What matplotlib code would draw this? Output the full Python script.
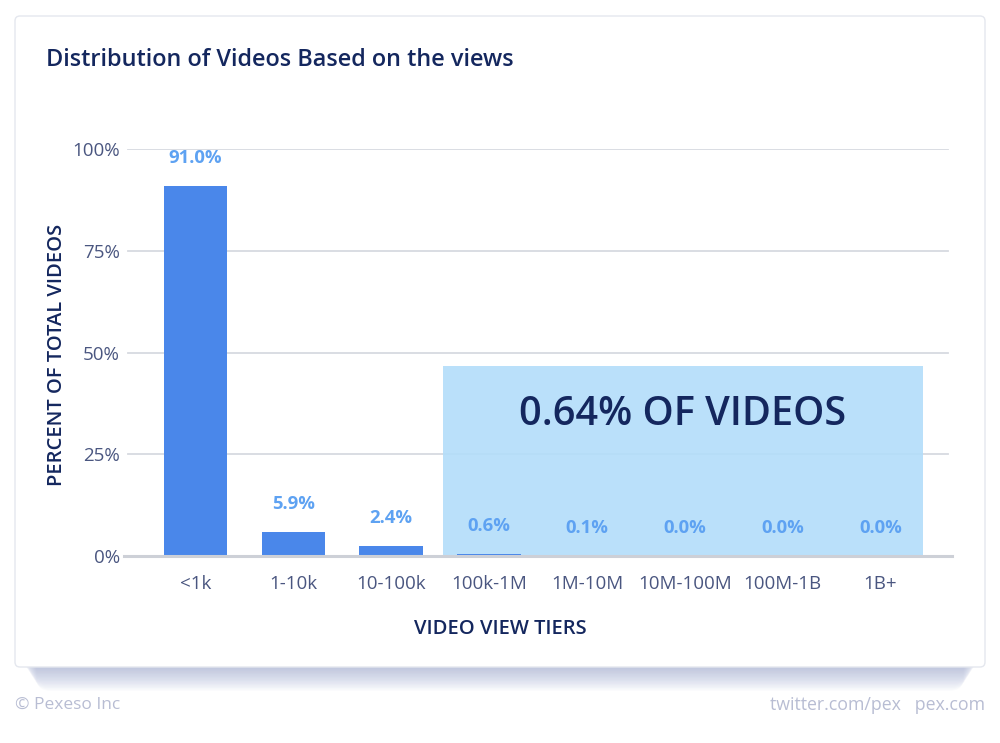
import matplotlib.pyplot as plt
from matplotlib.patches import FancyBboxPatch, Rectangle
import numpy as np

# data
tiers = ["<1k", "1-10k", "10-100k", "100k-1M", "1M-10M", "10M-100M", "100M-1B", "1B+"]
percent = [91.0, 5.9, 2.4, 0.6, 0.1, 0.0, 0.0, 0.0]
labels = ["91.0%", "5.9%", "2.4%", "0.6%", "0.1%", "0.0%", "0.0%", "0.0%"]
y_ticks = [0, 25, 50, 75, 100]
highlight_text = "0.64% OF VIDEOS"
highlight_top = 46.7

NAVY = "#14275E"
TICK = "#4A5680"
BAR = "#4A87EA"
LABEL = "#5EA2F2"

plt.rcParams['font.family'] = ['Open Sans', 'DejaVu Sans']

fig = plt.figure(figsize=(10, 7.43), dpi=100)
fig.patch.set_facecolor("white")

# card with soft shadow underneath (pixel coords)
H = 743
x0, x1, top, bot = 15, 985, 16, 667
for i in range(1, 18):
    inset = 6 + i * 0.9
    sh = FancyBboxPatch((x0 + inset, H - bot - i * 1.4), (x1 - x0) - 2 * inset, 60,
                        boxstyle="round,pad=0,rounding_size=14", transform=None,
                        facecolor="#8E9BC9", edgecolor="none", alpha=0.04, zorder=-11)
    fig.patches.append(sh)
card = FancyBboxPatch((x0, H - bot), x1 - x0, bot - top,
                      boxstyle="round,pad=0,rounding_size=5", transform=None,
                      facecolor="white", edgecolor="#E4E7EE", linewidth=1, zorder=-10)
fig.patches.append(card)

ax = fig.add_axes([0.124, (H - 556) / H, 0.828, (556 - 149) / H])
ax.set_facecolor("none")
x = np.arange(len(tiers))
ax.set_xlim(-0.73, 7.73)
ax.set_ylim(0, 100)

for yv in y_ticks[1:]:
    ax.axhline(yv, xmin=0.005, xmax=0.995, color="#D7DAE0", linewidth=1.3, zorder=0.5)

ax.add_patch(Rectangle((2.53, 0), 4.9, highlight_top, facecolor="#B3DDFA", alpha=0.9,
                       edgecolor="none", zorder=1))

ax.bar(x, percent, width=0.65, color=BAR, zorder=2)

for xi, v, lab in zip(x, percent, labels):
    ax.annotate(lab, xy=(xi, v), xytext=(0, 20), textcoords="offset points",
                ha="center", va="center", color=LABEL, fontsize=13.3, fontweight="bold",
                annotation_clip=False)

ax.text(4.98, 34.6, highlight_text, ha="center", va="center", color=NAVY,
        fontsize=28.5, fontweight="semibold", zorder=4)

for s in ["top", "right", "left"]:
    ax.spines[s].set_visible(False)
ax.spines["bottom"].set_color("#CDD0D7")
ax.spines["bottom"].set_linewidth(2.2)
ax.spines["bottom"].set_zorder(3)

ax.set_yticks(y_ticks)
ax.set_yticklabels([f"{v}%" for v in y_ticks])
ax.set_xticks(x)
ax.set_xticklabels(tiers)
ax.tick_params(axis="y", length=0, pad=3, labelsize=13.5, labelcolor=TICK)
ax.tick_params(axis="x", length=0, pad=14, labelsize=13.5, labelcolor=TICK)

fig.text(0.057, (H - 355) / H, "PERCENT OF TOTAL VIDEOS", rotation=90, ha="center", va="center",
         color=NAVY, fontsize=14.5, fontweight="semibold")
fig.text(0.5, (H - 629) / H, "VIDEO VIEW TIERS", ha="center", va="center",
         color=NAVY, fontsize=14.5, fontweight="semibold")

fig.text(0.046, (H - 60) / H, "Distribution of Videos Based on the views", ha="left", va="center",
         color=NAVY, fontsize=16.9, fontweight="semibold")

fig.text(0.015, (H - 705) / H, "© Pexeso Inc", ha="left", va="center", color="#B8BDD3", fontsize=12.5)
fig.text(0.985, (H - 705) / H, "twitter.com/pex   pex.com", ha="right", va="center",
         color="#B8BDD3", fontsize=12.8)

fig.savefig("out.png", dpi=100, facecolor="white")
